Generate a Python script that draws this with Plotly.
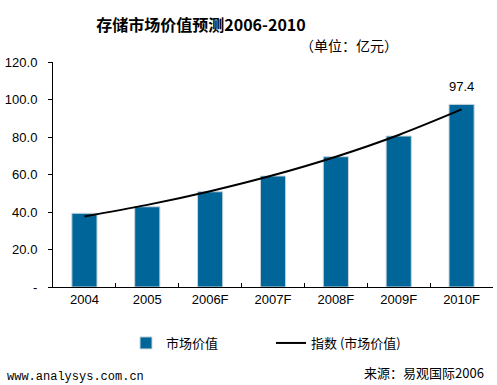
import plotly.graph_objects as go

categories = ["2004", "2005", "2006F", "2007F", "2008F", "2009F", "2010F"]
market_value = [39.3, 42.8, 50.8, 59.2, 69.5, 80.5, 97.4]
trend_values = [37.6, 43.8, 51.1, 59.6, 69.5, 81.1, 94.7]
y_tick_vals = [0, 20, 40, 60, 80, 100, 120]
y_tick_text = ["-", "20.0", "40.0", "60.0", "80.0", "100.0", "120.0"]

W, H = 497, 385
ML, MR, MT, MB = 53, 4, 62, 98
PW, PH = W - ML - MR, H - MT - MB

def px(x):
    return (x - ML) / PW

def py(y):
    return (H - MB - y) / PH

fig = go.Figure()
fig.add_trace(go.Bar(
    x=categories, y=market_value, name="市场价值",
    marker=dict(color="#006699", line=dict(color="#c9d3da", width=1)),
    width=0.4,
))
fig.add_trace(go.Scatter(
    x=categories, y=trend_values, name="指数 (市场价值)", mode="lines",
    line=dict(color="black", width=2, shape="spline"),
))

fig.add_annotation(x=categories[-1], y=market_value[-1], text=f"{market_value[-1]:.1f}",
                   showarrow=False, yanchor="bottom", yshift=8,
                   font=dict(family="Liberation Sans, Arial", size=13, color="black"))

fig.add_annotation(xref="paper", yref="paper", x=px(349), y=py(45), text="（单位：亿元）",
                   showarrow=False, xanchor="center", yanchor="middle",
                   font=dict(family="Noto Sans CJK SC", size=14, color="black"))
fig.add_annotation(xref="paper", yref="paper", x=px(5), y=py(377), text="www.analysys.com.cn",
                   showarrow=False, xanchor="left", yanchor="middle",
                   font=dict(family="Liberation Mono, DejaVu Sans Mono", size=12, color="black"))
fig.add_annotation(xref="paper", yref="paper", x=px(486), y=py(372), text="来源：易观国际2006",
                   showarrow=False, xanchor="right", yanchor="middle",
                   font=dict(family="Noto Sans CJK SC", size=13, color="black"))

fig.update_layout(
    width=W, height=H,
    margin=dict(l=ML, r=MR, t=MT, b=MB),
    paper_bgcolor="white", plot_bgcolor="white",
    title=dict(text="<b>存储市场价值预测2006-2010</b>", x=201 / W, y=1 - 25 / H,
               xanchor="center", yanchor="middle",
               font=dict(family="Noto Sans CJK SC", size=16, color="black")),
    font=dict(family="Liberation Sans, Arial", size=13, color="black"),
    showlegend=True,
    legend=dict(orientation="h", x=px(126), y=py(343), xanchor="left", yanchor="middle",
                entrywidth=100, entrywidthmode="pixels",
                font=dict(family="Noto Sans CJK SC", size=13, color="black"),
                bgcolor="rgba(0,0,0,0)", traceorder="normal"),
    xaxis=dict(type="category", range=[-0.5, 6.5], showline=True, linecolor="black", linewidth=1,
               ticks="inside", ticklen=4, tickcolor="black", tickson="boundaries",
               showgrid=False, automargin=False, tickfont=dict(family="Liberation Sans, Arial", size=13)),
    yaxis=dict(range=[0, 120], tickvals=y_tick_vals, ticktext=y_tick_text,
               showline=True, linecolor="black", linewidth=1, automargin=False,
               ticks="outside", ticklen=4, tickcolor="black", showgrid=False, zeroline=False,
               ticklabelstandoff=8, tickfont=dict(family="Liberation Sans, Arial", size=13)),
)

fig.write_html("out.html", config={"displayModeBar": False},
               post_script="document.body.style.margin='0';")
